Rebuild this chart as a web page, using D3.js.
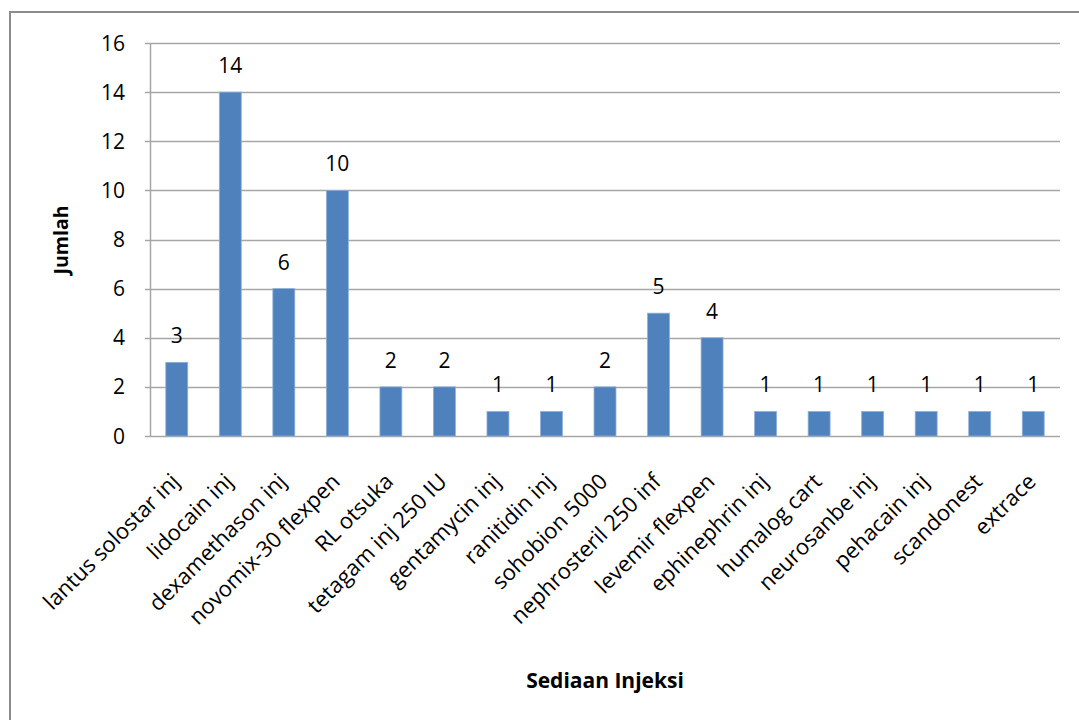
<!DOCTYPE html>
<html>
<head>
<meta charset="utf-8">
<script src="https://cdn.jsdelivr.net/npm/d3@7"></script>
<style>
  body { margin: 0; background: #fff; }
  text { font-family: "Open Sans", sans-serif; fill: #000; }
</style>
</head>
<body>
<svg id="chart" width="1079" height="720"></svg>
<script>
// data
var categories = ["lantus solostar inj", "lidocain inj", "dexamethason inj", "novomix-30 flexpen",
  "RL otsuka", "tetagam inj 250 IU", "gentamycin inj", "ranitidin inj", "sohobion 5000",
  "nephrosteril 250 inf", "levemir flexpen", "ephinephrin inj", "humalog cart",
  "neurosanbe inj", "pehacain inj", "scandonest", "extrace"];
var values = [3, 14, 6, 10, 2, 2, 1, 1, 2, 5, 4, 1, 1, 1, 1, 1, 1];
var yTicks = [0, 2, 4, 6, 8, 10, 12, 14, 16];

var svg = d3.select("#chart");

// outer chart border (runs off the right and bottom)
svg.append("rect")
    .attr("x", 10).attr("y", 12)
    .attr("width", 1100).attr("height", 760)
    .attr("fill", "none")
    .attr("stroke", "#8c8c8c")
    .attr("stroke-width", 2);

var plotLeft = 150, plotRight = 1060, plotTop = 43, plotBottom = 436;

var x = d3.scaleBand()
    .domain(categories)
    .range([plotLeft, plotRight])
    .paddingInner(0.59)
    .paddingOuter(0.295);

var y = d3.scaleLinear()
    .domain([0, 16])
    .range([plotBottom, plotTop]);

// gridlines
svg.append("g")
    .selectAll("line")
    .data(yTicks)
  .enter().append("line")
    .attr("x1", plotLeft - 5).attr("x2", plotRight)
    .attr("y1", function(d) { return Math.round(y(d)) + 0.5; })
    .attr("y2", function(d) { return Math.round(y(d)) + 0.5; })
    .attr("stroke", "#a6a6a6")
    .attr("stroke-width", 1.5);

// left axis line
svg.append("line")
    .attr("x1", plotLeft + 0.5).attr("x2", plotLeft + 0.5)
    .attr("y1", plotTop).attr("y2", plotBottom)
    .attr("stroke", "#a6a6a6")
    .attr("stroke-width", 1.5);

// y tick labels
svg.append("g")
    .selectAll("text")
    .data(yTicks)
  .enter().append("text")
    .attr("x", 125)
    .attr("y", function(d) { return y(d); })
    .attr("dy", "0.36em")
    .attr("text-anchor", "end")
    .style("font-size", "21px")
    .text(function(d) { return d; });

// bars
svg.append("g")
    .selectAll("rect")
    .data(values)
  .enter().append("rect")
    .attr("x", function(d, i) { return x(categories[i]); })
    .attr("y", function(d) { return y(d); })
    .attr("width", x.bandwidth())
    .attr("height", function(d) { return plotBottom - y(d); })
    .attr("fill", "#4f81bd")
    .attr("stroke", "#8eb0d9")
    .attr("stroke-width", 0.8);

// value labels
svg.append("g")
    .selectAll("text")
    .data(values)
  .enter().append("text")
    .attr("x", function(d, i) { return x(categories[i]) + x.bandwidth() / 2; })
    .attr("y", function(d) { return y(d) - 19; })
    .attr("text-anchor", "middle")
    .style("font-size", "21px")
    .text(function(d) { return d; });

// x category labels, rotated
svg.append("g")
    .selectAll("text")
    .data(categories)
  .enter().append("text")
    .attr("transform", function(d) {
      var cx = x(d) + x.bandwidth() / 2 - 7;
      return "translate(" + cx + ",472) rotate(-45)";
    })
    .attr("text-anchor", "end")
    .attr("dy", "0.7em")
    .style("font-size", "22px")
    .text(function(d) { return d; });

// axis titles
svg.append("text")
    .attr("transform", "translate(68,240) rotate(-90)")
    .attr("text-anchor", "middle")
    .style("font-size", "19.5px")
    .style("font-weight", "bold")
    .text("Jumlah");

svg.append("text")
    .attr("x", 605)
    .attr("y", 688)
    .attr("text-anchor", "middle")
    .style("font-size", "21px")
    .style("font-weight", "bold")
    .text("Sediaan Injeksi");
</script>
</body>
</html>
